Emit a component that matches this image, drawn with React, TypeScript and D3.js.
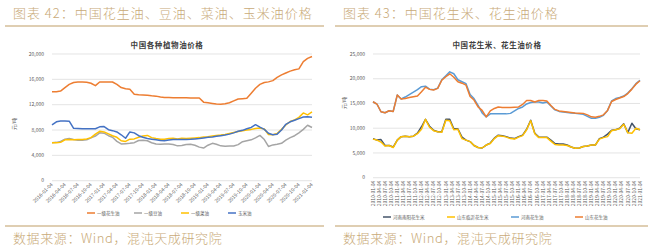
import React from 'react';
import * as d3 from 'd3';

const FONT = '"Noto Sans CJK SC", "Noto Sans", sans-serif';
const GOLD = '#bf9d66';
const GOLD_TEXT = '#c9aa78';
const GRID = '#d9d9d9';
const TICK = '#595959';

// 图表 42：植物油价格（元/吨），月度
const oilDates = d3.range(61).map(i => new Date(2016, i, 4));
const oilTickDates = d3.range(21).map(i => new Date(2016, i * 3, 4));
const oilYTicks = [0, 4000, 8000, 12000, 16000, 20000];

const peanutOil = [14050, 14050, 14150, 14700, 15200, 15500, 15580, 15580, 15550, 15380,
  15000, 15580, 15580, 15580, 15580, 15200, 14700, 14500, 14450, 13640,
  13550, 13520, 13480, 13400, 13350, 13200, 13150, 13120, 13100, 13100,
  13100, 13100, 13050, 13050, 13050, 12400, 12300, 12200, 12100, 12060,
  12150, 12300, 12600, 12900, 12950, 13000, 13800, 14600, 15200, 15500,
  15600, 15800, 16300, 16700, 17000, 17300, 17500, 17650, 18800, 19300, 19600];
const soyOil = [6000, 6050, 6200, 6550, 6650, 6500, 6400, 6400, 6450, 6750,
  7050, 7550, 7500, 7100, 6850, 6200, 5800, 5850, 5900, 6000,
  6350, 6400, 6300, 6000, 5800, 5750, 5780, 5800, 5700, 5500,
  5550, 5700, 5750, 5600, 5300, 5150, 5600, 5900, 5750, 5500,
  5450, 5480, 5470, 5700, 6150, 6300, 6450, 6750, 7150, 6500,
  5400, 5650, 5750, 5900, 6400, 6800, 7100, 7550, 8100, 8750, 8400];
const rapeOil = [6000, 6000, 6050, 6450, 6500, 6450, 6500, 6500, 6600, 6800,
  7350, 7800, 7700, 7400, 7100, 6850, 6300, 6200, 6550, 6600,
  6850, 7050, 7150, 6800, 6650, 6550, 6550, 6650, 6700, 6600,
  6700, 6650, 6700, 6750, 6800, 6900, 6950, 7050, 7150, 7200,
  7300, 7450, 7600, 7750, 7900, 8000, 8100, 8250, 8300, 8150,
  7300, 7250, 7450, 8100, 8800, 9350, 9600, 10000, 10700, 10400, 10850];
const cornOil = [8800, 9300, 9430, 9430, 9400, 8270, 8250, 8200, 8200, 8200,
  8200, 8500, 8550, 8050, 7900, 7700, 7250, 6700, 7700, 7550,
  7100, 6850, 6650, 6550, 6450, 6350, 6320, 6420, 6500, 6500,
  6500, 6520, 6550, 6600, 6650, 6750, 6850, 6900, 7000, 7100,
  7200, 7350, 7550, 7800, 7950, 8200, 8400, 8850, 8450, 8100,
  7500, 7250, 7350, 8000, 8900, 9300, 9550, 9800, 10050, 10100, 10000];

// 图表 43：花生米、花生油价格（元/吨），双月
const nutDates = d3.range(67).map(i => new Date(2010, i * 2, 4));
const nutTickDates = d3.range(45).map(i => new Date(2010, i * 3, 4));
const nutYTicks = [0, 5000, 10000, 15000, 20000, 25000];

const nanyangNut = [7900, 7600, 7700, 6500, 6500, 6200, 7600, 8300, 8400, 8300,
  8400, 9000, 10300, 11800, 10400, 9600, 9300, 9300, 11800, 11800,
  9900, 9900, 8200, 7600, 7300, 6500, 6100, 6000, 6600, 7000,
  8000, 8600, 8500, 8300, 8000, 7900, 8300, 8600, 9800, 11600,
  9000, 8200, 8200, 8200, 7600, 6900, 6800, 6800, 6600, 6200,
  5950, 6000, 6300, 6400, 6600, 6600, 7900, 8200, 8800, 9600,
  9700, 10000, 10900, 9100, 11000, 9900, 9700];
const linyiNut = [7800, 7600, 7200, 6400, 6500, 6100, 7600, 8300, 8400, 8300,
  8400, 8900, 9800, 11800, 10200, 9500, 9300, 9200, 11600, 11500,
  9700, 9800, 7900, 7600, 7300, 6500, 6100, 6000, 6600, 6900,
  7900, 8500, 8400, 8200, 7900, 7800, 8200, 8500, 9700, 11500,
  8900, 8100, 8100, 8100, 7400, 6700, 6600, 6600, 6500, 6200,
  5950, 6000, 6300, 6400, 6600, 6600, 7800, 8100, 8300, 9500,
  9700, 9900, 10800, 9100, 9000, 10000, 9700];
const henanOil = [15350, 14890, 13330, 13130, 13530, 13400, 16700, 15900, 16300, 16800,
  17300, 17800, 18400, 18500, 17900, 17800, 18100, 19800, 20600, 21400,
  21000, 19800, 19400, 19000, 16800, 16000, 14600, 13100, 12300, 12900,
  12900, 12900, 12900, 12900, 13000, 13500, 14000, 14300, 14900, 15200,
  15300, 15300, 15100, 15300, 14500, 13700, 13400, 13300, 13200, 13100,
  13000, 12900, 12800, 12400, 12000, 12000, 12200, 12600, 13600, 15500,
  16000, 16200, 16500, 17100, 18000, 19000, 19700];
const shandongOil = [15350, 14890, 13330, 13130, 13530, 13400, 16700, 15900, 16000, 16200,
  16370, 16500, 17370, 18300, 17850, 17710, 18060, 19700, 20400, 21000,
  20300, 19400, 19100, 18700, 16400, 15700, 14300, 13600, 12300, 13500,
  14000, 14300, 14200, 14200, 14200, 14250, 14300, 14800, 15600, 15600,
  15300, 15600, 15600, 15500, 14600, 13800, 13500, 13400, 13300, 13200,
  13100, 13050, 13000, 12700, 12300, 12200, 12400, 12700, 13600, 15400,
  15800, 16100, 16400, 17000, 17900, 18900, 19600];

const oilSeries = [
  { name: '一级花生油', color: '#ed7d31', values: peanutOil },
  { name: '一级豆油', color: '#a5a5a5', values: soyOil },
  { name: '一级菜油', color: '#ffc000', values: rapeOil },
  { name: '玉米油', color: '#4472c4', values: cornOil },
];
const nutSeries = [
  { name: '河南南阳花生米', color: '#44546a', values: nanyangNut },
  { name: '山东临沂花生米', color: '#ffc000', values: linyiNut },
  { name: '河南花生油', color: '#5b9bd5', values: henanOil },
  { name: '山东花生油', color: '#ed7d31', values: shandongOil },
];

const fmtDate = d3.timeFormat('%Y-%m-%d');
const fmtNum = d3.format(',');

function Panel(props: any) {
  const { left, lineEnd, figTitle, chartTitle, titleX, dates, series, tickDates, yTicks,
    xRange, yRange, vertical, unitY, legendX, legendStep, legendY } = props;
  const x = d3.scaleTime()
    .domain([tickDates[0], tickDates[tickDates.length - 1]])
    .range(xRange);
  const y = d3.scaleLinear().domain([0, yTicks[yTicks.length - 1]]).range(yRange);
  const line = d3.line<number>().x((d, i) => x(dates[i])).y(d => y(d));

  return (
    <g fontFamily={FONT}>
      <text x={left + 13} y={18} fontSize={13} letterSpacing={1} fontWeight={300} fill={GOLD_TEXT}>{figTitle}</text>
      <line x1={left + 5} x2={lineEnd} y1={26} y2={26} stroke={GOLD} strokeWidth={1.2} />

      <text x={titleX} y={48} fontSize={7.5} letterSpacing={0.6} fontWeight="bold"
        textAnchor="middle" fill="#404040">{chartTitle}</text>

      {yTicks.map((t: number) => (
        <g key={t}>
          <line x1={xRange[0]} x2={xRange[1]} y1={y(t)} y2={y(t)} stroke={GRID} strokeWidth={0.7} />
          <text x={xRange[0] - 8} y={y(t)} dy="0.35em" fontSize={5} textAnchor="end" fill={TICK}>
            {fmtNum(t)}
          </text>
        </g>
      ))}
      <text transform={`translate(${left + 16},${unitY}) rotate(-90)`} fontSize={5}
        textAnchor="middle" fill={TICK}>元/吨</text>

      {tickDates.map((d: Date, i: number) => {
        const px = x(d);
        const py = yRange[0] + 3;
        return (
          <text key={i} transform={`translate(${px},${py}) rotate(${vertical ? -90 : -45})`}
            dy="0.35em" fontSize={5} textAnchor="end" fill={TICK}>{fmtDate(d)}</text>
        );
      })}

      {series.map((s: any) => (
        <path key={s.name} d={line(s.values) || ''} fill="none" stroke={s.color}
          strokeWidth={1.5} strokeLinejoin="round" />
      ))}

      {series.map((s: any, i: number) => {
        const lx = legendX + i * legendStep;
        return (
          <g key={s.name}>
            <line x1={lx} x2={lx + 8} y1={legendY} y2={legendY} stroke={s.color} strokeWidth={1.5} />
            <text x={lx + 10} y={legendY} dy="0.35em" fontSize={4.5} fill={TICK}>{s.name}</text>
          </g>
        );
      })}

      <line x1={left + 5} x2={lineEnd} y1={226} y2={226} stroke={GOLD} strokeWidth={1.2} />
      <text x={left + 13} y={243} fontSize={13} letterSpacing={0.6} fontWeight={300} fill={GOLD_TEXT}>
        数据来源：Wind，混沌天成研究院
      </text>
    </g>
  );
}

export default function App() {
  return (
    <svg width={653} height={249} style={{ position: 'absolute', left: 0, top: 0, background: '#fff' }}>
      <Panel left={0} lineEnd={324} figTitle="图表 42：中国花生油、豆油、菜油、玉米油价格"
        chartTitle="中国各种植物油价格" titleX={167}
        dates={oilDates} series={oilSeries} tickDates={oilTickDates} yTicks={oilYTicks}
        xRange={[52, 312]} yRange={[180.7, 54]} vertical={false} unitY={124}
        legendX={87} legendStep={47} legendY={213} />
      <Panel left={330} lineEnd={648} figTitle="图表 43：中国花生米、花生油价格"
        chartTitle="中国花生米、花生油价格" titleX={497}
        dates={nutDates} series={nutSeries} tickDates={nutTickDates} yTicks={nutYTicks}
        xRange={[373, 640]} yRange={[177.7, 54]} vertical={true} unitY={103}
        legendX={383} legendStep={64} legendY={217} />
    </svg>
  );
}
